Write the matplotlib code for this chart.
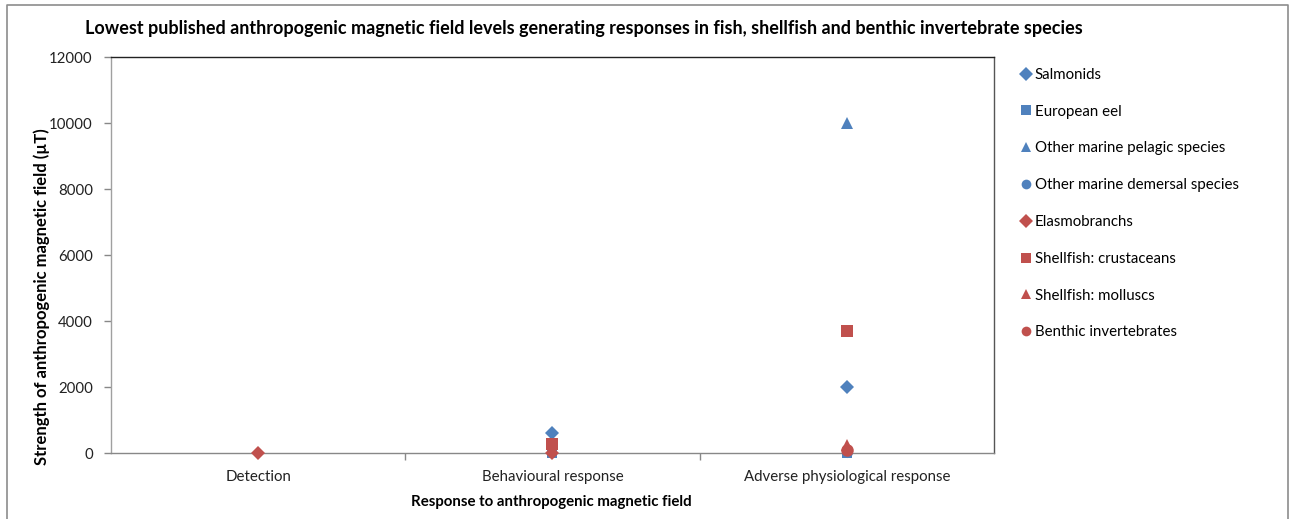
import numpy as np
import matplotlib.pyplot as plt
from matplotlib.lines import Line2D

plt.rcParams['font.family'] = ['Lato', 'DejaVu Sans']

categories = ['Detection', 'Behavioural response', 'Adverse physiological response']
nan = np.nan

# values per category (µT), nan = no value
salmonids = [nan, 600, 2000]
european_eel = [nan, 5, 5]
pelagic = [nan, nan, 10000]
demersal = [nan, nan, 40]
elasmobranchs = [5, 5, nan]
crustaceans = [nan, 280, 3700]
molluscs = [nan, nan, 250]
benthic = [nan, nan, 100]

blue = '#4F81BD'
red = '#C0504D'
series = [
    ('Salmonids', salmonids, 'D', blue, 7),
    ('European eel', european_eel, 's', blue, 7.5),
    ('Other marine pelagic species', pelagic, '^', blue, 8.5),
    ('Other marine demersal species', demersal, 'o', blue, 8),
    ('Elasmobranchs', elasmobranchs, 'D', red, 7),
    ('Shellfish: crustaceans', crustaceans, 's', red, 8.5),
    ('Shellfish: molluscs', molluscs, '^', red, 8.5),
    ('Benthic invertebrates', benthic, 'o', red, 9),
]

fig = plt.figure(figsize=(12.9, 5.19), dpi=100)
ax = fig.add_axes([0.086, 0.127, 0.6845, 0.763])

x = np.arange(len(categories))
handles = []
for name, vals, mk, col, ms in series:
    ax.plot(x, vals, linestyle='none', marker=mk, color=col, markersize=ms,
            markeredgewidth=0, clip_on=False, zorder=3)
    handles.append(Line2D([], [], linestyle='none', marker=mk, color=col,
                          markersize=7, markeredgewidth=0, label=name))

ax.set_xlim(-0.5, 2.5)
ax.set_ylim(0, 12000)
ax.set_yticks(np.arange(0, 12001, 2000))
ax.set_xticks(x)
ax.set_xticklabels(categories)
ax.set_xticks([0.5, 1.5], minor=True)
ax.tick_params(axis='x', which='major', length=0, pad=12, labelsize=10.8, labelcolor='#222222')
ax.tick_params(axis='x', which='minor', length=5, color='#888888', width=1)
ax.tick_params(axis='y', length=5, color='#888888', width=1, pad=8, labelsize=10.8, labelcolor='#222222')

ax.spines['left'].set_color('#a0a0a0')
ax.spines['bottom'].set_color('#888888')
ax.spines['top'].set_color('#222222')
ax.spines['right'].set_color('#555555')
for s in ax.spines.values():
    s.set_linewidth(1)

fig.text(42 / 1290, 1 - 297 / 519, 'Strength of anthropogenic magnetic field (µT)',
         rotation=90, ha='center', va='center', fontsize=12, fontweight='bold')
fig.text(551 / 1290, 1 - 502 / 519, 'Response to anthropogenic magnetic field',
         ha='center', va='center', fontsize=10.8, fontweight='bold')
fig.text(0.4527, 0.946, 'Lowest published anthropogenic magnetic field levels generating '
         'responses in fish, shellfish and benthic invertebrate species',
         ha='center', va='center', fontsize=13, fontweight='bold')

fig.legend(handles=handles, loc='upper left', bbox_to_anchor=(0.787, 0.881),
           frameon=False, fontsize=10.8, labelspacing=1.52, handlelength=0.6,
           handletextpad=0.3, borderaxespad=0)

# outer chart frame
fig.add_artist(Line2D([7 / 1290, 7 / 1290, 1288 / 1290, 1288 / 1290],
                      [0, 1 - 5 / 519, 1 - 5 / 519, 0], transform=fig.transFigure,
                      color='#8c8c8c', linewidth=1.2))

fig.savefig('out.png', dpi=100)
